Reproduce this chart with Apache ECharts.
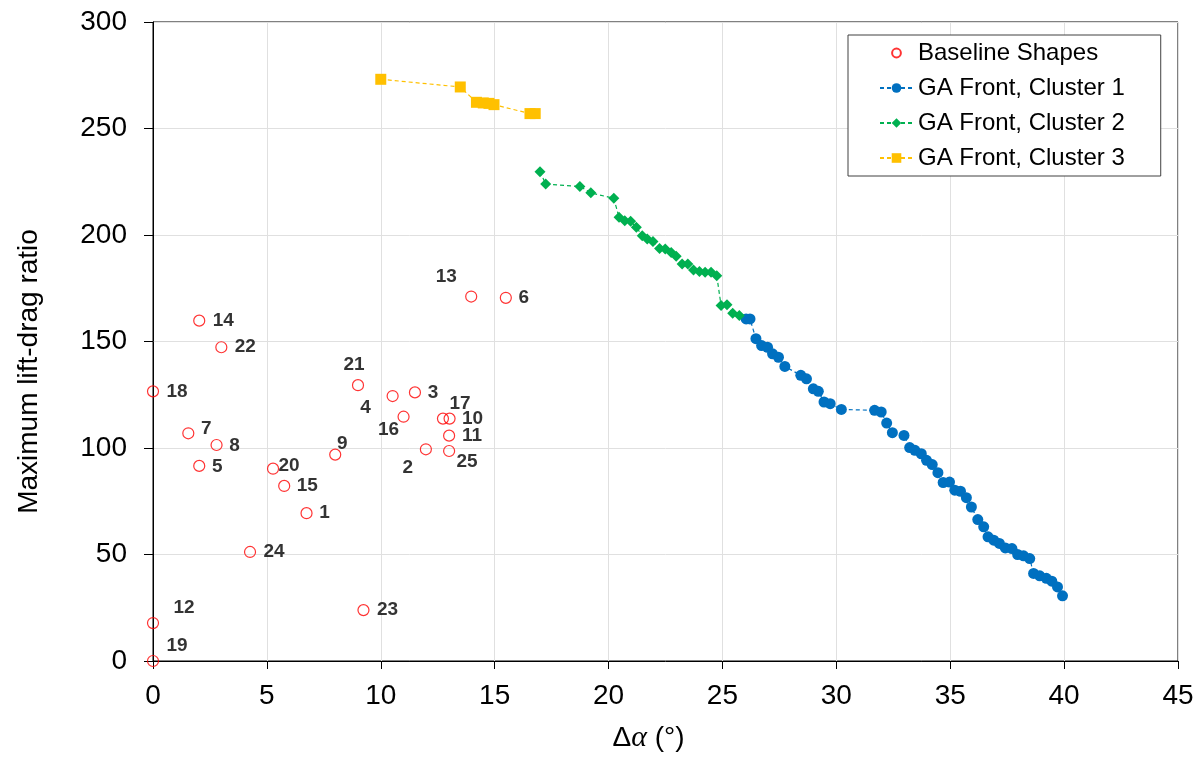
<!DOCTYPE html>
<html>
<head>
<meta charset="utf-8">
<script src="https://cdn.jsdelivr.net/npm/echarts@6/dist/echarts.min.js"></script>
<style>
  html, body { margin: 0; padding: 0; background: #fff; }
  #chart { width: 1202px; height: 759px; }
</style>
</head>
<body>
<div id="chart"></div>
<script>
// Baseline airfoil shapes: id, angle range (deg), max lift-drag ratio
const baselineIds = ['1','2','3','4','5','6','7','8','9','10','11','12','13','14','15','16','17','18','19','20','21','22','23','24','25'];
const baselineX = [6.74, 11.98, 11.5, 10.52, 2.03, 15.49, 1.55, 2.79, 8.0, 13.02, 13.0, 0.0, 13.97, 2.03, 5.76, 11.0, 12.73, 0.0, 0.0, 5.27, 9.0, 3.0, 9.24, 4.26, 13.0];
const baselineY = [69.4, 99.4, 126.1, 124.4, 91.6, 170.5, 106.9, 101.4, 96.9, 113.8, 105.8, 17.8, 171.1, 159.8, 82.2, 114.7, 113.8, 126.6, 0.0, 90.3, 129.5, 147.3, 23.9, 51.2, 98.6];

// GA Pareto front, cluster 1
const cluster1X = [26.04, 26.21, 26.47, 26.72, 26.98, 27.2, 27.46, 27.74, 28.44, 28.69, 28.99, 29.21, 29.46, 29.73, 30.22, 31.68, 31.97, 32.21, 32.46, 32.97, 33.22, 33.45, 33.73, 33.96, 34.21, 34.46, 34.69, 34.97, 35.2, 35.45, 35.71, 35.93, 36.21, 36.47, 36.66, 36.91, 37.16, 37.42, 37.71, 37.96, 38.22, 38.49, 38.66, 38.93, 39.22, 39.46, 39.71, 39.93];
const cluster1Y = [160.6, 160.6, 151.3, 148.1, 147.3, 144.2, 142.6, 138.3, 134.1, 132.5, 127.8, 126.6, 121.6, 120.8, 118.1, 117.7, 116.9, 111.7, 107.2, 105.9, 100.2, 98.9, 97.3, 94.2, 92.2, 88.4, 83.8, 84.0, 80.2, 79.7, 76.7, 72.3, 66.4, 63.0, 58.3, 56.7, 55.2, 53.1, 52.8, 50.0, 49.4, 48.1, 41.1, 40.0, 38.8, 37.5, 34.8, 30.6];

// GA Pareto front, cluster 2
const cluster2X = [16.99, 17.24, 18.74, 19.22, 20.23, 20.46, 20.71, 20.97, 21.22, 21.48, 21.7, 21.95, 22.24, 22.49, 22.75, 22.97, 23.23, 23.48, 23.73, 23.99, 24.24, 24.5, 24.75, 24.94, 25.2, 25.45, 25.74];
const cluster2Y = [229.7, 223.9, 222.8, 219.8, 217.2, 208.3, 206.7, 206.4, 203.6, 199.7, 198.1, 197.0, 193.7, 193.4, 191.8, 190.0, 186.4, 186.4, 183.6, 182.9, 182.5, 182.5, 180.9, 166.9, 167.2, 163.3, 162.2];

// GA Pareto front, cluster 3
const cluster3X = [10.0, 13.49, 14.2, 14.5, 14.75, 14.97, 16.55, 16.78];
const cluster3Y = [273.1, 269.5, 262.3, 262.0, 261.8, 261.2, 257.0, 257.0];

// Axis ticks
const xTicks = { min: 0, max: 45, step: 5 };
const yTicks = { min: 0, max: 300, step: 50 };

// Where each id label sits relative to its marker (px)
const labelOffsets = {
  '1': [18, 0], '2': [-18, 18], '3': [18, 0], '4': [-27, 12], '5': [18, 1],
  '6': [18, 0], '7': [18, -5], '8': [18, 1], '9': [7, -11], '10': [23, 0],
  '11': [23, 0], '12': [31, -15], '13': [-25, -20], '14': [24, 0], '15': [23, 0],
  '16': [-15, 13], '17': [17, -15], '18': [24, 0], '19': [24, -15], '20': [16, -3],
  '21': [-4, -20], '22': [24, 0], '23': [24, 0], '24': [24, 0], '25': [18, 11]
};

const FONT = 'Liberation Sans, Arial, sans-serif';
const zip = (xs, ys) => xs.map((x, i) => [x, ys[i]]);

const baselineData = baselineIds.map((id, i) => ({
  value: [baselineX[i], baselineY[i]],
  name: id,
  label: { offset: labelOffsets[id] }
}));

const frontSeries = (name, xs, ys, color, symbol) => ({
  name, type: 'line', data: zip(xs, ys),
  symbol, symbolSize: 11, showSymbol: true,
  itemStyle: { color },
  lineStyle: { color, width: 1.2, type: [4, 3] },
  z: 3
});

// small open circle for the legend, padded inside a 12x12 box
const smallCircleIcon = 'path://M0,0M12,12M6,1.6A4.4,4.4,0,1,1,5.99,1.6Z';

const chart = echarts.init(document.getElementById('chart'), null, { renderer: 'canvas' });
chart.setOption({
  animation: false,
  backgroundColor: '#fff',
  grid: { left: 153, right: 24, top: 22, bottom: 98, show: true, borderColor: '#000', borderWidth: 1, backgroundColor: 'transparent' },
  xAxis: {
    type: 'value', min: xTicks.min, max: xTicks.max, interval: xTicks.step,
    name: '{d|Δ}{a|α}{d| (°)}', nameLocation: 'middle', nameGap: 62,
    nameTextStyle: {
      padding: [0, 34, 0, 0],
      rich: {
        d: { fontFamily: FONT, fontSize: 28, color: '#000' },
        a: { fontFamily: 'Liberation Serif, DejaVu Serif, serif', fontStyle: 'italic', fontSize: 30, color: '#000' }
      }
    },
    axisLine: { show: true, onZero: false, lineStyle: { color: '#000', width: 1 } },
    axisTick: { show: true, inside: false, length: 8, lineStyle: { color: '#000' } },
    axisLabel: { fontFamily: FONT, fontSize: 28, color: '#000', margin: 21 },
    splitLine: { show: true, lineStyle: { color: '#e0e0e0', width: 1 } }
  },
  yAxis: {
    type: 'value', min: yTicks.min, max: yTicks.max, interval: yTicks.step,
    name: 'Maximum lift-drag ratio', nameLocation: 'middle', nameGap: 110, nameRotate: 90,
    nameTextStyle: { fontFamily: FONT, fontSize: 28, color: '#000', padding: [0, 60, 0, 0] },
    axisLine: { show: true, onZero: false, lineStyle: { color: '#000', width: 1 } },
    axisTick: { show: true, inside: false, length: 9, lineStyle: { color: '#000' } },
    axisLabel: { fontFamily: FONT, fontSize: 28, color: '#000', margin: 26 },
    splitLine: { show: true, lineStyle: { color: '#e0e0e0', width: 1 } }
  },
  legend: {
    orient: 'vertical', left: 848, top: 35,
    padding: [6, 36, 6, 31], itemGap: 11, itemWidth: 33, itemHeight: 12,
    backgroundColor: '#fff', borderColor: '#404040', borderWidth: 1,
    textStyle: { fontFamily: FONT, fontSize: 24, color: '#000', lineHeight: 24 },
    data: [
      { name: 'Baseline Shapes', icon: smallCircleIcon },
      'GA Front, Cluster 1', 'GA Front, Cluster 2', 'GA Front, Cluster 3'
    ]
  },
  series: [
    {
      name: 'Baseline Shapes', type: 'scatter', data: baselineData,
      symbol: 'circle', symbolSize: 11,
      itemStyle: { color: 'rgba(255,255,255,0)', borderColor: '#ff0000', borderWidth: 1.2 },
      label: {
        show: true, position: 'inside', formatter: p => p.name,
        fontFamily: FONT, fontSize: 19, fontWeight: 'bold', color: '#000',
        textBorderWidth: 0, align: 'center', verticalAlign: 'middle'
      },
      z: 4
    },
    frontSeries('GA Front, Cluster 1', cluster1X, cluster1Y, '#0070C0', 'circle'),
    frontSeries('GA Front, Cluster 2', cluster2X, cluster2Y, '#00B050', 'diamond'),
    frontSeries('GA Front, Cluster 3', cluster3X, cluster3Y, '#FFC000', 'rect')
  ]
});
</script>
</body>
</html>
